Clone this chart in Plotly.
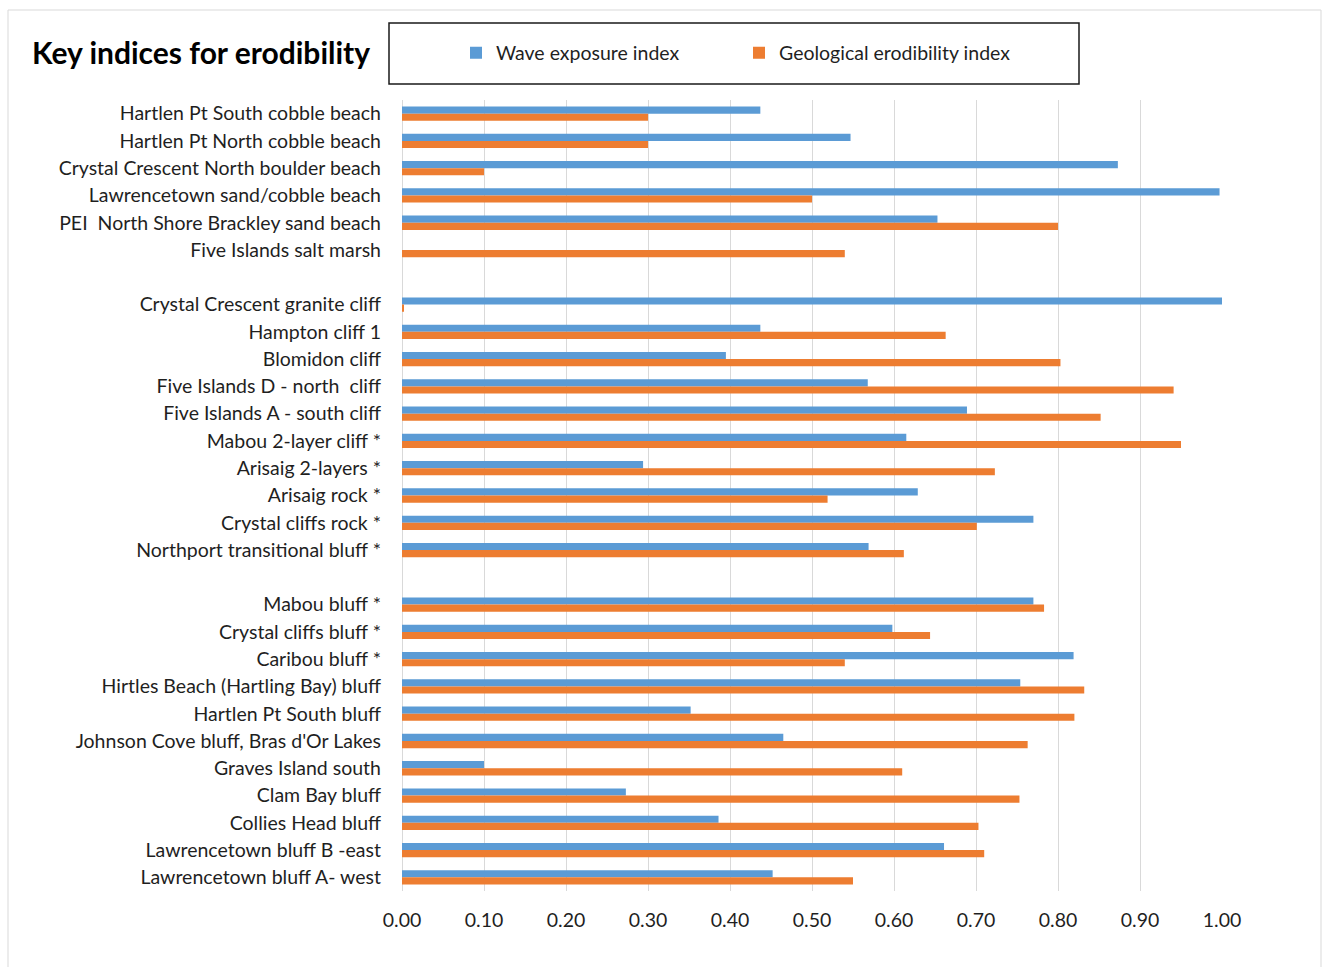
import plotly.graph_objects as go

# Sites, top to bottom; blank entries separate the three site groups
sites = [
    "Hartlen Pt South cobble beach",
    "Hartlen Pt North cobble beach",
    "Crystal Crescent North boulder beach",
    "Lawrencetown sand/cobble beach",
    "PEI  North Shore Brackley sand beach",
    "Five Islands salt marsh",
    " ",
    "Crystal Crescent granite cliff",
    "Hampton cliff 1",
    "Blomidon cliff",
    "Five Islands D - north  cliff",
    "Five Islands A - south cliff",
    "Mabou 2-layer cliff *",
    "Arisaig 2-layers *",
    "Arisaig rock *",
    "Crystal cliffs rock *",
    "Northport transitional bluff *",
    "  ",
    "Mabou bluff *",
    "Crystal cliffs bluff *",
    "Caribou bluff *",
    "Hirtles Beach (Hartling Bay) bluff",
    "Hartlen Pt South bluff",
    "Johnson Cove bluff, Bras d'Or Lakes",
    "Graves Island south",
    "Clam Bay bluff",
    "Collies Head bluff",
    "Lawrencetown bluff B -east",
    "Lawrencetown bluff A- west",
]

wave_exposure = [
    0.437, 0.547, 0.873, 0.997, 0.653, 0.0,
    None,
    1.00, 0.437, 0.395, 0.568, 0.689, 0.615, 0.294, 0.629, 0.770, 0.569,
    None,
    0.770, 0.598, 0.819, 0.754, 0.352, 0.465, 0.100, 0.273, 0.386, 0.661, 0.452,
]

geological_erodibility = [
    0.300, 0.300, 0.100, 0.500, 0.800, 0.540,
    None,
    0.002, 0.663, 0.803, 0.941, 0.852, 0.950, 0.723, 0.519, 0.701, 0.612,
    None,
    0.783, 0.644, 0.540, 0.832, 0.820, 0.763, 0.610, 0.753, 0.703, 0.710, 0.550,
]

x_ticks = [0.0, 0.1, 0.2, 0.3, 0.4, 0.5, 0.6, 0.7, 0.8, 0.9, 1.0]

W, H = 1323, 967
L, R, T, B = 402, 101, 100, 76
FONT = "Lato"
TXT = "#1f1f1f"

fig = go.Figure()
fig.add_trace(go.Bar(
    y=sites, x=wave_exposure, orientation="h", name="Wave exposure index",
    marker=dict(color="#5B9BD5", line=dict(width=0)),
))
fig.add_trace(go.Bar(
    y=sites, x=geological_erodibility, orientation="h", name="Geological erodibility index",
    marker=dict(color="#ED7D31", line=dict(width=0)),
))

pw = W - L - R
ph = H - T - B


def px_to_paper_x(px):
    return (px - L) / pw


def px_to_paper_y(py):
    return (H - B - py) / ph


fig.update_layout(
    width=W, height=H,
    margin=dict(l=L, r=R, t=T, b=B, autoexpand=False),
    paper_bgcolor="white", plot_bgcolor="white",
    barmode="group", bargap=0.476, bargroupgap=0,
    font=dict(family=FONT, size=19, color=TXT),
    showlegend=True,
    legend=dict(
        orientation="h",
        x=px_to_paper_x(456), xanchor="left",
        y=px_to_paper_y(53), yanchor="middle",
        bgcolor="rgba(0,0,0,0)", borderwidth=0,
        font=dict(family=FONT, size=19.5, color=TXT),
        entrywidth=238, entrywidthmode="pixels",
        traceorder="normal",
    ),
    xaxis=dict(
        range=[0, 1.0], tickvals=x_ticks, ticktext=[f"{v:.2f}" for v in x_ticks],
        showgrid=True, gridcolor="#d9d9d9", gridwidth=1,
        zeroline=True, zerolinecolor="#d9d9d9", zerolinewidth=1,
        showline=False, ticks="", ticklabelstandoff=15,
        tickfont=dict(family=FONT, size=19.5, color=TXT),
        fixedrange=True,
    ),
    yaxis=dict(
        type="category", categoryorder="array", categoryarray=sites,
        autorange="reversed", showgrid=False, zeroline=False, showline=False,
        ticks="", ticklabelstandoff=20,
        tickfont=dict(family=FONT, size=19.5, color=TXT),
        fixedrange=True,
    ),
    shapes=[
        # outer chart frame
        dict(type="rect", xref="paper", yref="paper",
             x0=px_to_paper_x(8), x1=px_to_paper_x(1321),
             y0=px_to_paper_y(975), y1=px_to_paper_y(10),
             line=dict(color="#d9d9d9", width=1), fillcolor="rgba(0,0,0,0)", layer="below"),
        # legend frame
        dict(type="rect", xref="paper", yref="paper",
             x0=px_to_paper_x(389), x1=px_to_paper_x(1079),
             y0=px_to_paper_y(84), y1=px_to_paper_y(23),
             line=dict(color="#1a1a1a", width=1.5), fillcolor="rgba(0,0,0,0)"),
    ],
    annotations=[
        dict(text="<b>Key indices for erodibility</b>", xref="paper", yref="paper",
             x=px_to_paper_x(30), xanchor="left", y=px_to_paper_y(52), yanchor="middle",
             showarrow=False, font=dict(family=FONT, size=30, color="#000000")),
    ],
)

fig.write_html("out.html")
